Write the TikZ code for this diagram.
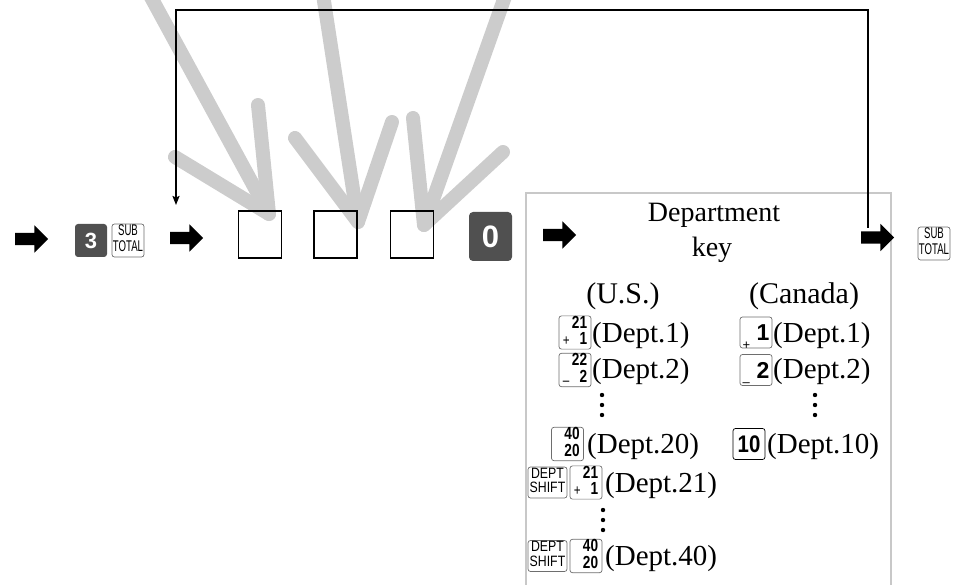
\documentclass[tikz,border=0pt]{standalone}
\usepackage{fontspec}
\usepackage{graphicx}
\setmainfont{Liberation Serif}
\newfontfamily\keysans{Liberation Sans}
\usetikzlibrary{arrows.meta,shapes.arrows}
\definecolor{keydark}{HTML}{505050}
\definecolor{keyedge}{HTML}{6E6E6E}
\definecolor{panelgray}{HTML}{C8C8C8}
\definecolor{bandgray}{HTML}{CCCCCC}

\newcommand{\subtotal}{\scalebox{0.62}[1]{\keysans\fontsize{15.5}{15}\selectfont\begin{tabular}{@{}c@{}}SUB\\TOTAL\end{tabular}}}
\newcommand{\deptshift}{\scalebox{0.82}[1]{\keysans\fontsize{15}{13.5}\selectfont\begin{tabular}{@{}c@{}}DEPT\\SHIFT\end{tabular}}}
\newcommand{\stackkey}[3]{\scalebox{0.78}[1]{\keysans\bfseries\fontsize{17.5}{15}\selectfont\begin{tabular}{@{}r@{}}#1\\\makebox[31pt]{\raisebox{-1pt}[0pt][0pt]{\mdseries\fontsize{15}{15}\selectfont#2}\hfill#3}\end{tabular}}}
\newcommand{\bigkey}[3]{\makebox[27pt]{\raisebox{#3}[0pt][0pt]{\keysans\fontsize{13}{13}\selectfont#1}\hfill{\keysans\bfseries\fontsize{23}{23}\selectfont#2}}}

\tikzset{
  band/.style={draw=bandgray, line width=14pt, line cap=round, line join=round},
  wkey/.style={draw=keyedge, line width=0.7pt, fill=white, rounded corners=2.5pt, inner sep=0pt, minimum width=32pt, minimum height=31pt},
  bkey/.style={wkey, draw=black},
  dkey/.style={fill=keydark, rounded corners=3pt, inner sep=0pt, text=white},
  blank/.style={draw=black, line width=1.3pt, minimum width=43pt, minimum height=47pt, inner sep=0pt},
  fat/.style={single arrow, fill=black, inner sep=6pt, minimum height=33pt, single arrow head extend=7.5pt, single arrow tip angle=90},
  loopline/.style={draw=black, line width=1.8pt},
  lbl/.style={inner sep=0pt, anchor=base west, font=\fontsize{29}{29}\selectfont},
  head/.style={inner sep=0pt, anchor=base, font=\fontsize{30}{30}\selectfont},
  panel/.style={draw=panelgray, line width=2.5pt},
}

\begin{document}
\begin{tikzpicture}[x=1pt,y=-1pt]
\useasboundingbox (0,0) rectangle (955,585);

% gray arrows (background)
\coordinate (g1s) at (146,-12); \coordinate (g1t) at (269,214);
\coordinate (g1l) at (175,157); \coordinate (g1r) at (258,105);
\coordinate (g2s) at (322,-12); \coordinate (g2t) at (358,222);
\coordinate (g2l) at (295,138); \coordinate (g2r) at (392,122);
\coordinate (g3s) at (508,-12); \coordinate (g3t) at (424,225);
\coordinate (g3l) at (413,118); \coordinate (g3r) at (503,152);
\draw[band] (g1s) -- (g1t); \draw[band] (g1l) -- (g1t) -- (g1r);
\draw[band] (g2s) -- (g2t); \draw[band] (g2l) -- (g2t) -- (g2r);
\draw[band] (g3s) -- (g3t); \draw[band] (g3l) -- (g3t) -- (g3r);

% department panel
\draw[panel] (526,620) -- (526,193) -- (891,193) -- (891,620);

% main row
\node[fat] (a1) at (28.5,239) {};
\node[dkey, minimum width=32pt, minimum height=33pt, font=\keysans\bfseries\fontsize{22}{22}\selectfont] (k3) at (91,240.5) {3};
\node[wkey, minimum height=33pt] (st1) at (128,240.5) {\subtotal};
\node[fat] (a2) at (183.5,238) {};
\node[blank] (b1) at (260,234.5) {};
\node[blank] (b2) at (335.5,234.5) {};
\node[blank] (b3) at (412,234.5) {};
\node[dkey, minimum width=43pt, minimum height=49pt, rounded corners=4pt, font=\keysans\bfseries\fontsize{31}{31}\selectfont] (k0) at (490.5,236.5) {0};
\node[fat] (a3) at (556.5,235) {};
\node[fat] (a4) at (874.5,237.5) {};
\node[wkey, minimum height=33pt] (st2) at (934,243.5) {\subtotal};

% loop line
\coordinate (loopL) at (176,205);
\coordinate (loopR) at (868,228);
\coordinate (loopTop) at (0,10);
\draw[loopline, -{Stealth[length=9pt,width=7pt,inset=1.5pt]}] (loopR) -- (loopR |- loopTop) -- (loopL |- loopTop) -- (loopL);

% department text
\node[inner sep=0pt, anchor=base, font=\fontsize{28}{28}\selectfont] (dep) at (714,222) {Department};
\node[inner sep=0pt, anchor=base, font=\fontsize{28}{28}\selectfont] (key) at (712,257) {key};
\node[head] (us) at (623,303) {(U.S.)};
\node[head] (ca) at (804,303) {(Canada)};

% U.S. column
\node[wkey] (u1k) at (575,332.5) {\stackkey{21}{+}{1}};
\node[lbl] (u1t) at (592,342) {(Dept.1)};
\node[wkey] (u2k) at (575,370) {\stackkey{22}{\raisebox{-2pt}{–}}{2}};
\node[lbl] (u2t) at (592,378) {(Dept.2)};
\fill (602,395) circle (2.2pt) (602,405) circle (2.2pt) (602,415) circle (2.2pt);
\node[wkey] (u3k) at (567.5,444) {\stackkey{40}{}{20}};
\node[lbl] (u3t) at (587,453) {(Dept.20)};
\node[wkey, minimum width=39pt] (u4s) at (547.5,482.5) {\deptshift};
\node[wkey] (u4k) at (586,482.5) {\stackkey{21}{+}{1}};
\node[lbl] (u4t) at (605,492) {(Dept.21)};
\fill (603,510) circle (2.2pt) (603,520) circle (2.2pt) (603,530) circle (2.2pt);
\node[wkey, minimum width=39pt] (u5s) at (547.5,556) {\deptshift};
\node[wkey] (u5k) at (586,556) {\stackkey{40}{}{20}};
\node[lbl] (u5t) at (605,565) {(Dept.40)};

% Canada column
\node[wkey] (c1k) at (756,332.5) {\bigkey{+}{1}{-9pt}};
\node[lbl] (c1t) at (773,342) {(Dept.1)};
\node[wkey] (c2k) at (756,370) {\bigkey{–}{2}{-8pt}};
\node[lbl] (c2t) at (773,378) {(Dept.2)};
\fill (815,395) circle (2.2pt) (815,405) circle (2.2pt) (815,415) circle (2.2pt);
\node[bkey] (c3k) at (749,444) {\scalebox{0.85}[1]{\keysans\bfseries\fontsize{24}{24}\selectfont 10}};
\node[lbl] (c3t) at (767,453) {(Dept.10)};
\end{tikzpicture}
\end{document}
